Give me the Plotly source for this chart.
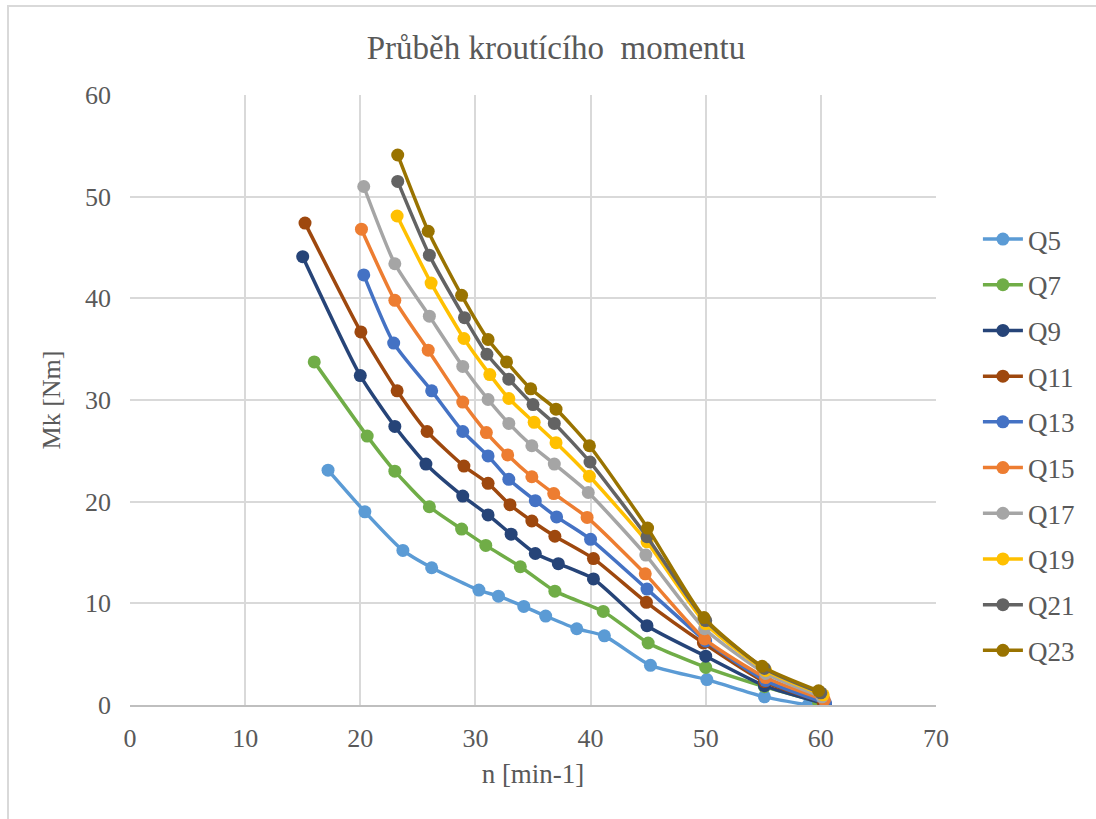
import plotly.graph_objects as go

series_names = ["Q5", "Q7", "Q9", "Q11", "Q13", "Q15", "Q17", "Q19", "Q21", "Q23"]

q5_x = [17.2, 20.4, 23.7, 26.2, 30.3, 32.0, 34.2, 36.1, 38.8, 41.2, 45.2, 50.1, 55.1, 58.9]
q5_y = [23.1, 19.0, 15.2, 13.5, 11.3, 10.7, 9.7, 8.75, 7.5, 6.8, 3.9, 2.5, 0.8, 0.0]

q7_x = [16.0, 20.6, 23.0, 26.0, 28.8, 30.9, 33.9, 36.9, 41.1, 45.0, 50.0, 55.1, 59.8]
q7_y = [33.75, 26.45, 23.0, 19.5, 17.3, 15.7, 13.6, 11.2, 9.2, 6.1, 3.7, 1.8, 0.3]

q9_x = [15.0, 20.0, 23.0, 25.7, 28.9, 31.1, 33.1, 35.2, 37.2, 40.25, 44.9, 50.0, 55.1, 60.4]
q9_y = [44.1, 32.4, 27.4, 23.7, 20.55, 18.7, 16.8, 14.9, 13.9, 12.4, 7.8, 4.8, 1.9, 0.1]

q11_x = [15.2, 20.05, 23.2, 25.8, 29.0, 31.1, 33.0, 34.9, 36.9, 40.25, 44.85, 49.8, 55.1, 60.2]
q11_y = [47.4, 36.7, 30.9, 26.9, 23.5, 21.8, 19.7, 18.1, 16.6, 14.4, 10.1, 6.1, 2.3, 0.3]

q13_x = [20.3, 22.9, 26.2, 28.9, 31.1, 32.9, 35.2, 37.05, 40.0, 44.9, 50.0, 55.2, 60.4]
q13_y = [42.3, 35.6, 30.9, 26.9, 24.5, 22.2, 20.1, 18.5, 16.3, 11.4, 6.3, 2.4, 0.2]

q15_x = [20.1, 23.0, 25.9, 28.9, 30.95, 32.8, 34.9, 36.8, 39.7, 44.75, 49.9, 55.2, 60.3]
q15_y = [46.8, 39.8, 34.9, 29.8, 26.8, 24.6, 22.45, 20.8, 18.45, 12.9, 6.5, 2.7, 0.5]

q17_x = [20.3, 23.0, 26.0, 28.9, 31.1, 32.9, 34.9, 36.85, 39.8, 44.8, 49.9, 55.2, 60.1]
q17_y = [51.0, 43.4, 38.25, 33.3, 30.05, 27.7, 25.5, 23.7, 20.9, 14.75, 7.5, 3.1, 0.8]

q19_x = [23.2, 26.15, 29.0, 31.25, 32.9, 35.1, 37.0, 39.9, 44.9, 50.0, 55.2, 60.2]
q19_y = [48.1, 41.5, 36.05, 32.5, 30.15, 27.8, 25.8, 22.5, 16.05, 8.0, 3.4, 1.0]

q21_x = [23.25, 26.0, 29.05, 31.0, 32.9, 35.0, 36.85, 39.95, 44.9, 50.0, 55.1, 60.0]
q21_y = [51.5, 44.25, 38.1, 34.5, 32.05, 29.55, 27.7, 23.9, 16.55, 8.3, 3.6, 1.2]

q23_x = [23.25, 25.9, 28.8, 31.1, 32.7, 34.8, 37.0, 39.9, 44.95, 49.85, 54.9, 59.8]
q23_y = [54.1, 46.6, 40.3, 35.95, 33.75, 31.1, 29.1, 25.5, 17.4, 8.6, 3.8, 1.4]

xs = [q5_x, q7_x, q9_x, q11_x, q13_x, q15_x, q17_x, q19_x, q21_x, q23_x]
ys = [q5_y, q7_y, q9_y, q11_y, q13_y, q15_y, q17_y, q19_y, q21_y, q23_y]
colors = ["#5B9BD5", "#70AD47", "#264478", "#9E480E", "#4472C4",
          "#ED7D31", "#A5A5A5", "#FFC000", "#636363", "#997300"]

x_ticks = [0, 10, 20, 30, 40, 50, 60, 70]
y_ticks = [0, 10, 20, 30, 40, 50, 60]

FONT = "Liberation Serif"
TXT = "#595959"

fig = go.Figure()
for name, x, y, c in zip(series_names, xs, ys, colors):
    fig.add_trace(go.Scatter(
        x=x, y=y, name=name, mode="lines+markers",
        line=dict(color=c, width=3.5, shape="spline", smoothing=0.6),
        marker=dict(color=c, size=13),
        legendgroup=name,
    ))

W, H = 1096, 819
L, R, T, B = 130, 160, 95, 114
pw, ph = W - L - R, H - T - B

fig.update_layout(
    width=W, height=H,
    margin=dict(l=L, r=R, t=T, b=B),
    paper_bgcolor="white", plot_bgcolor="white",
    font=dict(family=FONT, color=TXT, size=25),
    title=dict(text="Průběh kroutícího  momentu", x=(556 - L) / pw, xref="paper",
               xanchor="center", y=1 - 47 / H, yanchor="middle",
               font=dict(size=33, family=FONT, color=TXT)),
    showlegend=True,
    legend=dict(x=1.052, y=1 - (215 - T) / ph, xanchor="left", yanchor="top",
                font=dict(size=27, family=FONT, color=TXT),
                tracegroupgap=7.6, itemwidth=40, bgcolor="rgba(0,0,0,0)"),
    xaxis=dict(range=[0, 70], tickvals=x_ticks, showgrid=True, gridcolor="#d9d9d9",
               gridwidth=2, zeroline=False, showline=True, linecolor="#bfbfbf",
               linewidth=2, ticks="", ticklabelstandoff=9,
               tickfont=dict(size=26, family=FONT, color=TXT),
               title=dict(text="n [min-1]", standoff=12,
                          font=dict(size=27, family=FONT, color=TXT))),
    yaxis=dict(range=[0, 60], tickvals=y_ticks, showgrid=True, gridcolor="#d9d9d9",
               gridwidth=2, zeroline=False, showline=False, ticks="",
               ticklabelstandoff=18,
               tickfont=dict(size=26, family=FONT, color=TXT),
               title=dict(text="Mk [Nm]", standoff=16,
                          font=dict(size=26, family=FONT, color=TXT))),
)

fig.add_shape(type="rect", xref="paper", yref="paper",
              x0=(8 - L) / pw, x1=(W + 10 - L) / pw,
              y0=-(H + 10 - (T + ph)) / ph, y1=(T + ph - 6) / ph,
              line=dict(color="#d9d9d9", width=2), layer="below")

fig.write_html("out.html")
